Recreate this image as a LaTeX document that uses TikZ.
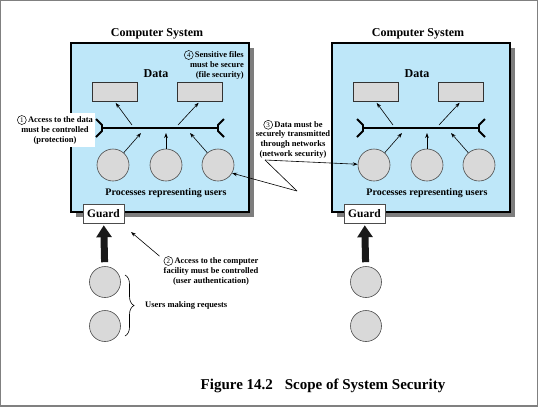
\documentclass[tikz,border=0pt]{standalone}
\usepackage{fontspec}
\setmainfont{Liberation Serif}
\usetikzlibrary{arrows.meta,shadows,decorations.pathreplacing}
\definecolor{sysblue}{RGB}{190,231,249}
\definecolor{lgray}{RGB}{217,217,217}
\definecolor{shadowgray}{RGB}{125,125,125}
\newcommand\cn[1]{\tikz[baseline=(cnum.base),x=1pt,y=1pt]\node[circle,draw=black,line width=0.5pt,inner sep=0pt,minimum size=9pt,font=\mdseries\fontsize{7}{7}\selectfont] (cnum) {#1};}
\begin{document}
\begin{tikzpicture}[x=1pt,y=-1pt,
  sysbox/.style={draw=black,line width=1.6pt,fill=sysblue,minimum width=178pt,minimum height=169pt,inner sep=0pt,
    drop shadow={shadow xshift=5pt,shadow yshift=-5pt,fill=shadowgray,opacity=1}},
  title/.style={font=\bfseries\fontsize{12}{14}\selectfont,inner sep=1pt},
  datarect/.style={draw=black!80,fill=lgray,minimum width=45pt,minimum height=19pt,inner sep=0pt,line width=0.6pt},
  proc/.style={circle,draw=black!70,fill=lgray,minimum size=32pt,inner sep=0pt,line width=0.6pt},
  guardbox/.style={draw=black!70,fill=white,minimum width=41pt,minimum height=19pt,inner sep=0pt,line width=0.6pt,
    font=\bfseries\fontsize{11.5}{12}\selectfont},
  note/.style={font=\bfseries\fontsize{8.5}{10.3}\selectfont,align=center,inner sep=1pt},
  arr/.style={-{Stealth[length=5pt,width=3.6pt]},line width=0.6pt},
  plainline/.style={line width=0.6pt},
  bus/.style={line width=1.8pt},
  bigarrow/.style={line width=7pt,-{Triangle[length=12pt,width=15pt]},black!90}
]
\useasboundingbox (0,0) rectangle (539,408);
\draw[gray,line width=1.2pt] (0.6,0.6) rectangle (537.4,406);

\foreach \p/\dx in {L/0,R/261}{
\begin{scope}[xshift=\dx pt]
  \node[sysbox] (\p-box) at (160,127.5) {};
  \node[title] (\p-title) at (157,34) {Computer System};
  \node[title] (\p-data) at (156,74) {Data};
  \node[datarect] (\p-d1) at (114.5,91.5) {};
  \node[datarect] (\p-d2) at (200,91.5) {};
  \coordinate (\p-bl) at (102,128);
  \coordinate (\p-br) at (218,128);
  \draw[bus] (\p-bl) -- (\p-br);
  \draw[bus] ([shift={(-6,-9)}]\p-bl) -- ++(6,6) -- ++(0,6) -- ++(-6,6);
  \draw[bus] ([shift={(6,-9)}]\p-br) -- ++(-6,6) -- ++(0,6) -- ++(6,6);
  \coordinate (\p-a1) at (132,125);
  \coordinate (\p-a2) at (178,125);
  \draw[arr,shorten >=2pt] (\p-a1) -- (\p-d1.south);
  \draw[arr,shorten >=2pt] (\p-a2) -- (\p-d2.south);
  \node[proc] (\p-p1) at (113,165) {};
  \node[proc] (\p-p2) at (166,165) {};
  \node[proc] (\p-p3) at (218,165) {};
  \coordinate (\p-t1) at (141,133);
  \coordinate (\p-t2) at (166,133);
  \coordinate (\p-t3) at (190,133);
  \draw[arr] (\p-p1) -- (\p-t1);
  \draw[arr] (\p-p2) -- (\p-t2);
  \draw[arr] (\p-p3) -- (\p-t3);
  \node[font=\bfseries\fontsize{10}{12}\selectfont,inner sep=1pt] (\p-proc) at (166,193) {Processes representing users};
  \node[guardbox] (\p-g) at (103.5,213.5) {Guard};
  \node[proc,minimum size=31pt] (\p-u1) at (105,282) {};
  \node[proc,minimum size=31pt] (\p-u2) at (105,326) {};
  \draw[bigarrow,shorten <=4pt,shorten >=2pt] (\p-u1) -- (\p-g);
\end{scope}
}

% label 1
\node[note,fill=white,inner sep=2pt] (l1) at (55,130) {\cn{1}\,Access to the data\\must be controlled\\(protection)};
% label 4
\node[note,align=right,anchor=east] (l4) at (245,65) {\cn{4}\,Sensitive files\\must be secure\\(file security)};
% label 2
\node[note] (l2) at (211,271) {\cn{2}\,Access to the computer\\facility must be controlled\\(user authentication)};
\coordinate (g2) at (131,232);
\draw[arr] ([xshift=-3pt,yshift=-1pt]l2.north west) -- (g2);
% users
\draw[decorate,decoration={brace,amplitude=9pt},line width=0.6pt] (125,275) -- (125,336);
\node[note,anchor=west] (users) at (144,305) {Users making requests};
% label 3
\node[note,font=\bfseries\fontsize{8.5}{9.7}\selectfont] (l3) at (293,139) {\cn{3}\,Data must be\\securely transmitted\\through networks\\(network security)};
\coordinate (n1) at (265,160);
\coordinate (n2) at (297,191);
\draw[arr] (n1) -- (R-p1);
\draw[plainline] (n1) -- (n2);
\draw[arr] (n2) -- (L-p3.-30);
% caption
\node[font=\bfseries\fontsize{15}{17}\selectfont,inner sep=1pt] (cap) at (323,386) {Figure 14.2\hspace{12pt}Scope of System Security};
\end{tikzpicture}
\end{document}
